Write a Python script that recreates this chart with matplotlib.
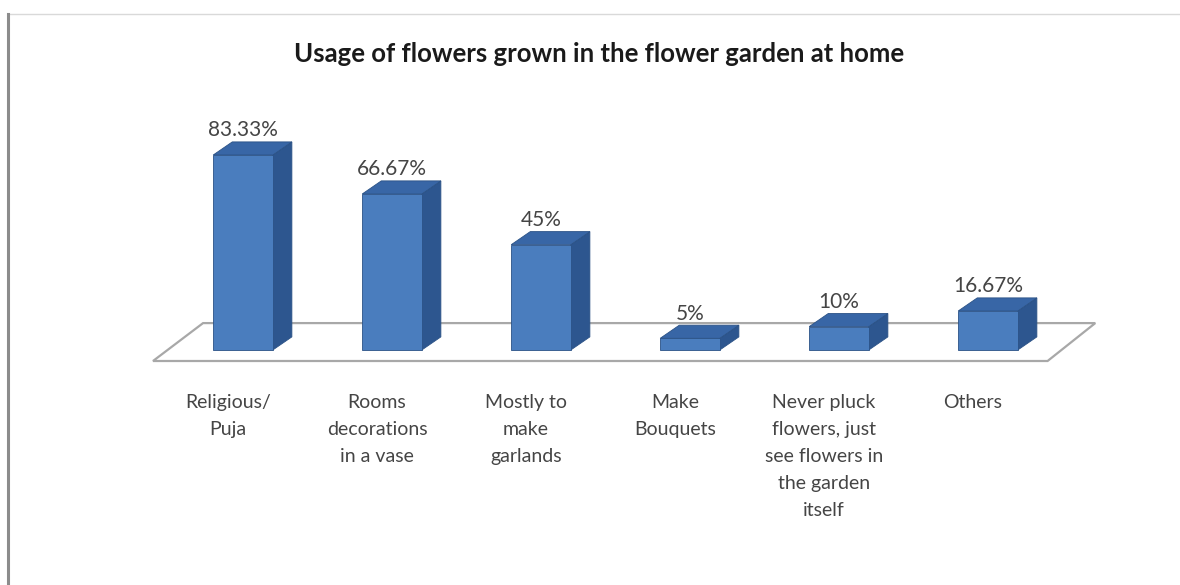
import numpy as np
import matplotlib.pyplot as plt
from matplotlib.patches import Polygon, Rectangle
from matplotlib.lines import Line2D

# Werte des Diagramms
categories = ["Religious/\nPuja", "Rooms\ndecorations\nin a vase", "Mostly to\nmake\ngarlands",
              "Make\nBouquets", "Never pluck\nflowers, just\nsee flowers in\nthe garden\nitself", "Others"]
values = [83.33, 66.67, 45, 5, 10, 16.67]
value_labels = ["83.33%", "66.67%", "45%", "5%", "10%", "16.67%"]
title = "Usage of flowers grown in the flower garden at home"

plt.rcParams['font.family'] = ['Lato', 'DejaVu Sans']

W, H, DPI = 1180, 585, 100
fig = plt.figure(figsize=(W / DPI, H / DPI), dpi=DPI)
fig.patch.set_facecolor('white')

# Achse über die ganze Fläche: 1 Kategorie = 149 px, 1 % = 2.34 px
ax = fig.add_axes([0, 0, 1, 1])
x0_px, y0_px = 243, 350
px_x, px_y = 149.0, 2.34
ax.set_xlim(-x0_px / px_x, (W - x0_px) / px_x)
ax.set_ylim(-(H - y0_px) / px_y, y0_px / px_y)
ax.axis('off')

x = np.arange(len(values))
bw = 0.40          # Säulenbreite
dx, dy = 0.128, 5.6  # Tiefenversatz

# Boden (Parallelogramm)
floor_front, floor_back = -4.7, 11.5
floor = Polygon([(-0.604, floor_front), (5.40, floor_front), (5.72, floor_back), (-0.268, floor_back)],
                closed=True, facecolor='white', edgecolor='#a8a8a8', linewidth=1.6, zorder=1)
ax.add_patch(floor)

front_c = '#4a7dbe'
side_c = '#2d568f'
top_c = '#3866a6'
edge_c = '#2b5286'

for xi, v, lab in zip(x, values, value_labels):
    l, r = xi - bw / 2, xi + bw / 2
    side = Polygon([(r, 0), (r + dx, dy), (r + dx, v + dy), (r, v)], closed=True,
                   facecolor=side_c, edgecolor=edge_c, linewidth=0.6, zorder=3)
    top = Polygon([(l, v), (r, v), (r + dx, v + dy), (l + dx, v + dy)], closed=True,
                  facecolor=top_c, edgecolor=edge_c, linewidth=0.6, zorder=3)
    front = Rectangle((l, 0), bw, v, facecolor=front_c, edgecolor=edge_c, linewidth=0.6, zorder=4)
    for p in (side, top, front):
        ax.add_patch(p)
    ax.text(xi, v + dy + 0.6, lab, ha='center', va='bottom', fontsize=15, color='#454545', zorder=5)

# Kategorien unter dem Boden
for xi, cat in zip(x, categories):
    ax.text(xi - 0.1, -19.0, cat, ha='center', va='top', fontsize=14, color='#454545',
            linespacing=1.7)

fig.text(599 / W, 1 - 54 / H, title, ha='center', va='center', fontsize=18.5,
         fontweight='bold', color='#1a1a1a')

# Rahmen des Diagrammbereichs
fig.add_artist(Line2D([8 / W, 1], [1 - 14 / H] * 2, color='#d9d9d9', linewidth=1.0))
fig.add_artist(Line2D([8 / W] * 2, [0, 1 - 14 / H], color='#8c8c8c', linewidth=2.2))

fig.savefig('out.png', dpi=DPI)
